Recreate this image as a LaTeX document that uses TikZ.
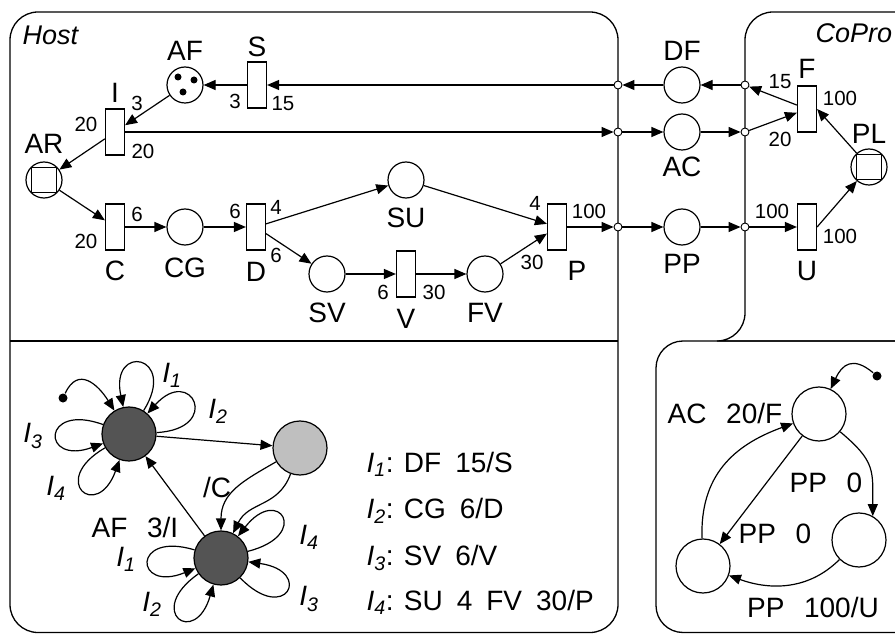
\documentclass[tikz,border=0pt]{standalone}
\usepackage{fontspec}
\setmainfont{Liberation Sans}
\usepackage{tikz}
\usetikzlibrary{arrows.meta, positioning}

\newcommand{\gap}{\hspace{0.7em}}
\newcommand{\lgap}{\hspace{0.5em}}
\newcommand{\inp}[1]{\textit{I}\textsubscript{\textit{#1}}}

\begin{document}
\begin{tikzpicture}[
  x=1pt, y=1pt,
  line width=1.2pt,
  place/.style={circle, draw, minimum size=36pt, inner sep=0pt},
  trans/.style={rectangle, draw, minimum width=19pt, minimum height=46pt, inner sep=0pt},
  port/.style={circle, draw, fill=white, minimum size=8pt, inner sep=0pt, line width=0.9pt},
  token/.style={circle, fill, minimum size=7pt, inner sep=0pt},
  sq/.style={rectangle, draw, minimum size=25pt, inner sep=0pt},
  st/.style={circle, draw, minimum size=54pt, inner sep=0pt},
  dark/.style={st, fill=black!67},
  light/.style={st, fill=black!25},
  initdot/.style={circle, fill, minimum size=9pt, inner sep=0pt},
  nm/.style={font=\fontsize{28}{31}\selectfont, inner sep=1pt},
  wt/.style={font=\fontsize{20.5}{23}\selectfont, inner sep=1pt},
  lbl/.style={font=\fontsize{28}{31}\selectfont, inner sep=1pt},
  ttl/.style={font=\fontsize{27}{30}\selectfont\itshape, inner sep=1pt},
  box/.style={line width=1.3pt},
  arr/.style={-{Triangle[length=12pt, width=10pt]}},
  loopy/.style={arr, min distance=66pt},
]
\useasboundingbox (0,0) rectangle (895,633);

% Frames
\draw[box, rounded corners=28pt] (10,0.5) rectangle (618,621);
\draw[box] (10,292) -- (618,292);
\draw[box] (905,621) -- (773,621) arc[start angle=90, end angle=180, radius=28]
  -- (745,320) arc[start angle=0, end angle=-90, radius=28] -- (905,292);
\draw[box, rounded corners=27pt] (656,0.5) rectangle (925,292);
\node[ttl, anchor=west] (host) at (21,598) {Host};
\node[ttl, anchor=west] (copro) at (814,600) {CoPro};

% Host net
\node[place, label={[nm,label distance=4pt]above:AF}] (AF) at (185,548) {};
\node[token] (tk1) at (178,556) {};
\node[token] (tk2) at (194,553) {};
\node[token] (tk3) at (183,541) {};
\node[trans, label={[nm,label distance=3pt]above:S}] (S) at (257,548) {};
\node[trans, label={[nm,label distance=4pt]above:I}] (I) at (115,501) {};
\node[place, label={[nm,label distance=6pt]above:AR}] (AR) at (44,453) {};
\node[sq] (ARsq) at (AR) {};
\node[trans, label={[nm,label distance=9pt]below:C}] (C) at (115,406) {};
\node[place, label={[nm,label distance=11pt]below:CG}] (CG) at (185,406) {};
\node[trans, label={[nm,label distance=10pt]below:D}] (D) at (256,406) {};
\node[place, label={[nm,label distance=8pt]below:SU}] (SU) at (406,453) {};
\node[place, label={[nm,label distance=9pt]below:SV}] (SV) at (327,359) {};
\node[trans, label={[nm,label distance=10pt]below:V}] (V) at (406,359) {};
\node[place, label={[nm,label distance=9pt]below:FV}] (FV) at (485,359) {};
\node[trans, label={[nm,label distance=9pt,xshift=20pt]below:P}] (P) at (557,406) {};

% Interface
\node[port] (h1) at (618,548) {};
\node[port] (h2) at (618,501) {};
\node[port] (h3) at (618,406) {};
\node[place, label={[nm,label distance=4pt]above:DF}] (DF) at (682,548) {};
\node[place, label={[nm,label distance=5pt]below:AC}] (AC) at (682,501) {};
\node[place, label={[nm,label distance=7pt]below:PP}] (PP) at (682,406) {};
\node[port] (c1) at (745,548) {};
\node[port] (c2) at (745,501) {};
\node[port] (c3) at (745,406) {};

% CoPro net
\node[trans, label={[nm,label distance=5pt]above:F}] (F) at (807,524) {};
\node[place, label={[nm,label distance=3pt]above:PL}] (PL) at (869,466) {};
\node[sq] (PLsq) at (PL) {};
\node[trans, label={[nm,label distance=9pt]below:U}] (U) at (807,406) {};

% Weights
\node[wt] (wS1) at (235,532) {3};
\node[wt] (wS2) at (283,529) {15};
\node[wt] (wI1) at (137,530) {3};
\node[wt] (wI2) at (86,509) {20};
\node[wt] (wI3) at (143,482) {20};
\node[wt] (wC1) at (86,392) {20};
\node[wt] (wC2) at (137,419) {6};
\node[wt] (wD1) at (235,422) {6};
\node[wt] (wD2) at (276,426) {4};
\node[wt] (wD3) at (276,378) {6};
\node[wt] (wV1) at (383,341) {6};
\node[wt] (wV2) at (434,341) {30};
\node[wt] (wP1) at (535,430) {4};
\node[wt] (wP2) at (589,422) {100};
\node[wt] (wP3) at (532,371) {30};
\node[wt] (wF1) at (780,551) {15};
\node[wt] (wF2) at (780,494) {20};
\node[wt] (wF3) at (840,535) {100};
\node[wt] (wU1) at (772,422) {100};
\node[wt] (wU2) at (840,397) {100};

% Arcs
\draw[arr] (c1) -- (DF);
\draw[arr] (DF) -- (h1);
\draw[arr] (h1) -- (S);
\draw[arr] (S) -- (AF);
\draw[arr] (AF) -- (I);
\draw[arr] (I) -- (AR);
\draw[arr] (I) -- (h2);
\draw[arr] (h2) -- (AC);
\draw[arr] (AC) -- (c2);
\draw[arr] (c2) -- (F);
\draw[arr] (F) -- (c1);
\draw[arr] (PL) -- (F.east);
\draw[arr] (U.east) -- (PL);
\draw[arr] (c3) -- (U);
\draw[arr] (PP) -- (c3);
\draw[arr] (h3) -- (PP);
\draw[arr] (P) -- (h3);
\draw[arr] (AR) -- (C);
\draw[arr] (C) -- (CG);
\draw[arr] (CG) -- (D);
\draw[arr] (D) -- (SU);
\draw[arr] (D) -- (SV);
\draw[arr] (SV) -- (V);
\draw[arr] (V) -- (FV);
\draw[arr] (SU) -- (P);
\draw[arr] (FV) -- (P);

% Host automaton
\node[dark] (A) at (129,199) {};
\node[light] (B) at (300,185) {};
\node[dark] (Cn) at (221,75) {};
\node[initdot] (i0) at (63,235) {};
\draw[arr] (i0) to[out=65, in=122, looseness=1.5] (A);
\draw[loopy] (A) to[out=58, in=102] (A);
\draw[loopy] (A) to[out=3, in=48] (A);
\draw[loopy] (A) to[out=160, in=200] (A);
\draw[loopy] (A) to[out=210, in=250] (A);
\draw[arr] (A) -- (B);
\draw[arr] (B) to[out=210, in=90, looseness=1.1] (Cn);
\draw[arr] (B) to[out=250, in=64, looseness=1.1] (Cn);
\draw[arr] (Cn) -- (A);
\draw[loopy] (Cn) to[out=163, in=202] (Cn);
\draw[loopy] (Cn) to[out=215, in=254] (Cn);
\draw[loopy] (Cn) to[out=314, in=352] (Cn);
\draw[loopy] (Cn) to[out=14, in=52] (Cn);
\node[lbl] (la1) at (172,258) {\inp{1}};
\node[lbl] (la2) at (218,222) {\inp{2}};
\node[lbl] (la3) at (33,197) {\inp{3}};
\node[lbl] (la4) at (56,145) {\inp{4}};
\node[lbl] (lc1) at (126,74) {\inp{1}};
\node[lbl] (lc2) at (152,29) {\inp{2}};
\node[lbl] (lc3) at (309,34) {\inp{3}};
\node[lbl] (lc4) at (309,96) {\inp{4}};
\node[lbl] (lC) at (217,146) {/C};
\node[lbl] (lAF) at (135,106) {AF\gap 3/I};
\node[lbl, anchor=base west] (lg1) at (365,161) {\inp{1}: DF\lgap 15/S};
\node[lbl, anchor=base west] (lg2) at (365,115) {\inp{2}: CG\lgap 6/D};
\node[lbl, anchor=base west] (lg3) at (365,68) {\inp{3}: SV\lgap 6/V};
\node[lbl, anchor=base west] (lg4) at (365,23) {\inp{4}: SU\lgap 4\lgap FV\lgap 30/P};

% CoPro automaton
\node[st] (q0) at (819,219) {};
\node[st] (q1) at (859,93) {};
\node[st] (q2) at (703,67) {};
\node[initdot] (i1) at (877,257) {};
\draw[arr] (i1) to[out=140, in=65, looseness=1.5] (q0);
\draw[arr] (q0) to[out=-40, in=90, looseness=1.3] (q1.60);
\draw[arr] (q0) -- (q2);
\draw[arr] (q2) to[out=92, in=200, looseness=1.1] (q0);
\draw[arr] (q1) to[out=225, in=340] (q2);
\node[lbl] (lq1) at (725,220) {AC\gap 20/F};
\node[lbl] (lq2) at (826,150) {PP\gap 0};
\node[lbl] (lq3) at (775,99) {PP\gap 0};
\node[lbl] (lq4) at (813,26) {PP\gap 100/U};

\end{tikzpicture}
\end{document}
